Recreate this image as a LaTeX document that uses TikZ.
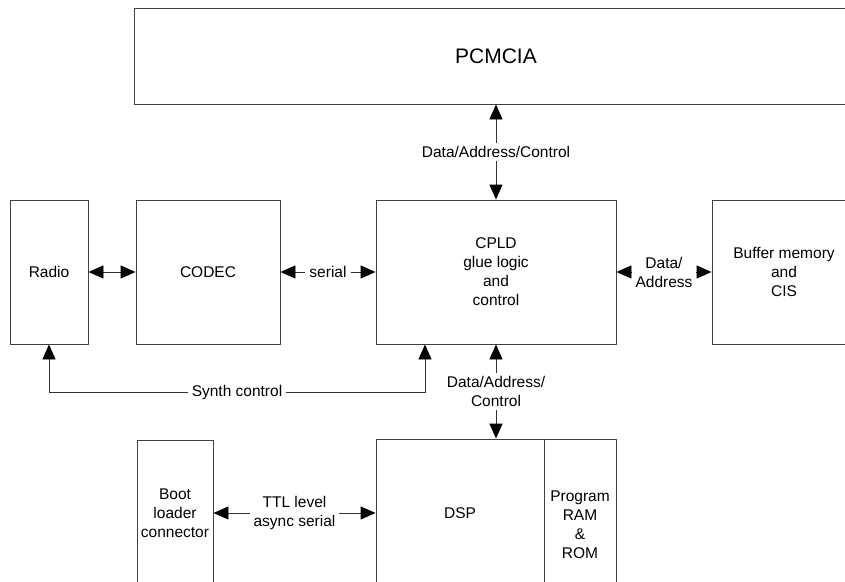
\documentclass[tikz,border=0pt]{standalone}
\usepackage{fontspec}
\setmainfont{Liberation Sans}
\usetikzlibrary{arrows.meta}
\newcommand\fsz{\fontsize{15.5}{19}\selectfont}
\begin{document}
\begin{tikzpicture}[x=1pt,y=-1pt,
  box/.style={draw=black!75, line width=0.9pt, align=center, font=\fsz, inner sep=0pt},
  lbl/.style={fill=white, align=center, font=\fsz, inner xsep=4pt, inner ysep=3.5pt},
  conn/.style={draw=black!80, line width=0.9pt,
    {Triangle[length=15pt,width=13pt,black]}-{Triangle[length=15pt,width=13pt,black]}}]
\useasboundingbox (0,0) rectangle (845,581);
\clip (0,0) rectangle (845,581);
\fill[white] (0,0) rectangle (845,581);

\node[box, minimum width=724pt, minimum height=96pt, font=\fontsize{21}{25}\selectfont] (pcmcia) at (496,56) {PCMCIA};
\node[box, minimum width=78pt, minimum height=144pt] (radio) at (49,272) {Radio};
\node[box, minimum width=144pt, minimum height=144pt] (codec) at (208,272) {CODEC};
\node[box, minimum width=240pt, minimum height=144pt] (cpld) at (496,272) {CPLD\\glue logic\\and\\control};
\node[box, minimum width=144pt, minimum height=144pt] (buffer) at (784,272) {Buffer memory\\and\\CIS};
\node[box, minimum width=76pt, minimum height=146pt] (boot) at (175,513) {Boot\\loader\\connector};
\node[box, minimum width=168pt, minimum height=148pt] (dsp) at (460,513) {DSP};
\node[box, minimum width=72pt, minimum height=172pt] (prog) at (580,525) {Program\\RAM\\\&\\ROM};

\coordinate (sc) at ([xshift=-71pt]cpld.south);

\draw[conn] (radio) -- (codec);
\draw[conn] (codec) -- node[lbl]{serial} (cpld);
\draw[conn] (cpld) -- node[lbl]{Data/\\Address} (buffer);
\draw[conn] (pcmcia) -- node[lbl]{Data/Address/Control} (cpld);
\draw[conn] (cpld.south) -- node[lbl]{Data/Address/\\Control} (cpld.south |- dsp.north);
\draw[conn] (boot) -- node[lbl]{TTL level\\async serial} (dsp);
\draw[conn] (radio.south) -- ++(0,48) -| node[lbl,pos=0.25]{Synth control} (sc);
\end{tikzpicture}
\end{document}
